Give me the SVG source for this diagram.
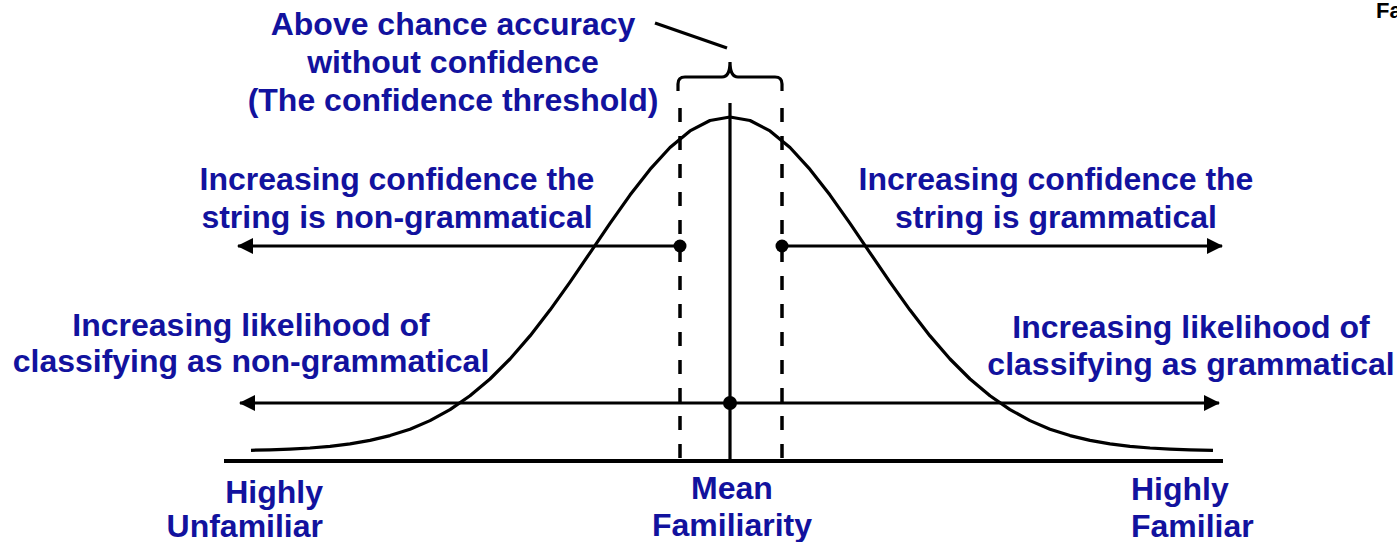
<svg xmlns="http://www.w3.org/2000/svg" width="1397" height="542" viewBox="0 0 1397 542">
<defs>
<style>
.t{font-family:"Liberation Sans",Arial,sans-serif;font-weight:bold;font-size:32px;fill:#12129e;text-anchor:middle}
.ln{stroke:#000;fill:none;stroke-width:3.2}
.dash{stroke:#000;fill:none;stroke-width:3.5;stroke-dasharray:14 14}
.dot{fill:#000}
</style>
<marker id="ah" viewBox="0 0 16 16" refX="15" refY="8" markerWidth="16" markerHeight="16" markerUnits="userSpaceOnUse" orient="auto">
<path d="M0,0 L16,8 L0,16 Z" fill="#000"/>
</marker>
</defs>
<rect width="1397" height="542" fill="#fff"/>
<g id="connectors">
<line class="ln" x1="224" y1="461" x2="1223" y2="461" style="stroke-width:4"/>
<polyline class="ln" points="251,450.3 270,449.8 290,449.1 310,448 330,446.3 350,443.9 370,440.4 390,435.6 410,429.2 430,420.6 450,409.6 470,395.8 490,379 510,359 530,335.9 550,310.1 570,282.1 590,252.8 610,223.4 630,195.1 650,169.4 670,147.5 690,130.9 710,120.5 730,117 750,120.5 770,130.9 790,147.5 810,169.4 830,195.1 850,223.4 870,252.8 890,282.1 910,310.1 930,335.9 950,359 970,379 990,395.8 1010,409.6 1030,420.6 1050,429.2 1070,435.6 1090,440.4 1110,443.9 1130,446.3 1150,448 1170,449.1 1190,449.8 1213,450.3" stroke-linejoin="round"/>
<line class="ln" x1="730" y1="103" x2="730" y2="461"/>
<line class="dash" x1="680" y1="108" x2="680" y2="461"/>
<line class="dash" x1="782" y1="108" x2="782" y2="461"/>
<path class="ln" d="M678,91 V84 Q678,77 685,77 H722 Q730,77 730,62 Q730,77 738,77 H775 Q782,77 782,84 V91"/>
<line class="ln" x1="655" y1="23" x2="727" y2="48"/>
<line class="ln" x1="680" y1="246" x2="238" y2="246" marker-end="url(#ah)"/>
<line class="ln" x1="782" y1="246" x2="1222" y2="246" marker-end="url(#ah)"/>
<line class="ln" x1="730" y1="403" x2="240" y2="403" marker-end="url(#ah)"/>
<line class="ln" x1="730" y1="403" x2="1219" y2="403" marker-end="url(#ah)"/>
<circle class="dot" cx="680" cy="246" r="6.5"/>
<circle class="dot" cx="782" cy="246" r="6.5"/>
<circle class="dot" cx="730" cy="403" r="7"/>
</g>
<g id="threshold-label">
<text class="t" x="453" y="35">Above chance accuracy</text>
<text class="t" x="453" y="73">without confidence</text>
<text class="t" x="453" y="111">(The confidence threshold)</text>
</g>
<g id="conf-nongram">
<text class="t" x="397" y="190">Increasing confidence the</text>
<text class="t" x="397" y="228">string is non-grammatical</text>
</g>
<g id="conf-gram">
<text class="t" x="1056" y="190">Increasing confidence the</text>
<text class="t" x="1056" y="228">string is grammatical</text>
</g>
<g id="like-nongram">
<text class="t" x="251" y="336">Increasing likelihood of</text>
<text class="t" x="251" y="372">classifying as non-grammatical</text>
</g>
<g id="like-gram">
<text class="t" x="1191" y="338">Increasing likelihood of</text>
<text class="t" x="1191" y="375">classifying as grammatical</text>
</g>
<g id="highly-unfamiliar">
<text class="t" x="323" y="503" style="text-anchor:end">Highly</text>
<text class="t" x="323" y="537" style="text-anchor:end">Unfamiliar</text>
</g>
<g id="mean-familiarity">
<text class="t" x="732" y="499">Mean</text>
<text class="t" x="732" y="536">Familiarity</text>
</g>
<g id="highly-familiar">
<text class="t" x="1131" y="500" style="text-anchor:start">Highly</text>
<text class="t" x="1131" y="537" style="text-anchor:start">Familiar</text>
</g>
<g id="corner">
<text x="1376" y="18" style="font-family:'Liberation Sans',Arial,sans-serif;font-weight:bold;font-size:22px;fill:#000">Fa</text>
</g>
</svg>
